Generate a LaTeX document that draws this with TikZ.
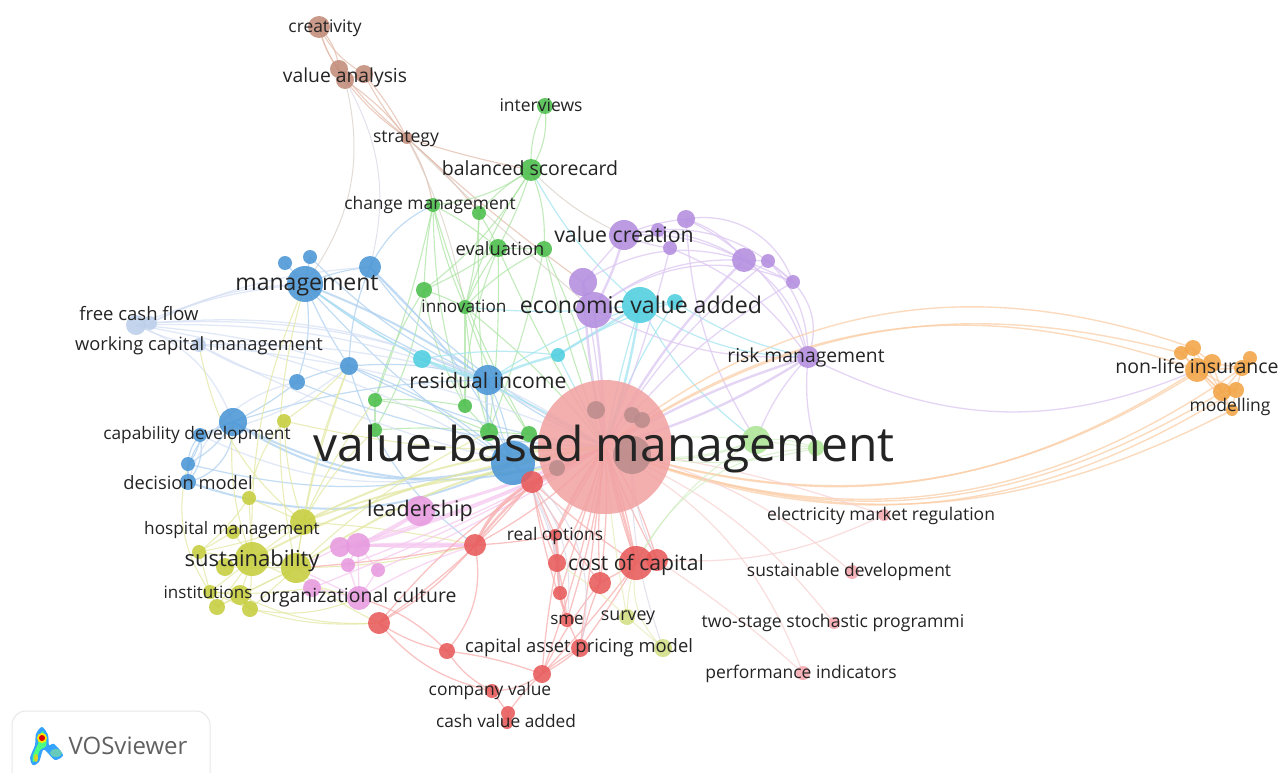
\documentclass[tikz,border=0pt]{standalone}
\usepackage{fontspec}
\setmainfont{Open Sans}
\usetikzlibrary{backgrounds}
\pgfdeclarelayer{edgelayer}
\pgfsetlayers{background,edgelayer,main}
\definecolor{cV}{HTML}{F2A3A3}
\definecolor{cBr}{HTML}{C28C7A}
\definecolor{cG}{HTML}{4CBF4C}
\definecolor{cB}{HTML}{4A96D6}
\definecolor{cC}{HTML}{4FCFE0}
\definecolor{cL}{HTML}{BCCFEA}
\definecolor{cP}{HTML}{B48EE0}
\definecolor{cO}{HTML}{F2A445}
\definecolor{cLg}{HTML}{AEE596}
\definecolor{cY}{HTML}{C6CE3E}
\definecolor{cK}{HTML}{E79ADF}
\definecolor{cR}{HTML}{E85A5A}
\definecolor{cQ}{HTML}{F5A9B0}
\definecolor{cS}{HTML}{D2DE84}
\definecolor{cGy}{HTML}{BC8C8C}
\definecolor{eBr}{HTML}{E3B9A8}
\definecolor{eG}{HTML}{ABE4A2}
\definecolor{eB}{HTML}{ABCFF0}
\definecolor{eC}{HTML}{A0E4F0}
\definecolor{eL}{HTML}{D6E0F4}
\definecolor{eP}{HTML}{DCC6F2}
\definecolor{eO}{HTML}{FBCDA5}
\definecolor{eY}{HTML}{E2E79E}
\definecolor{eK}{HTML}{F6C8F0}
\definecolor{eR}{HTML}{F8ADAD}
\definecolor{eQ}{HTML}{F9D0D0}
\definecolor{eT}{HTML}{D8CFC6}
\definecolor{eN}{HTML}{D9D5E6}
\definecolor{eS}{HTML}{E6EBB4}
\definecolor{eLg}{HTML}{CFEDC0}
\tikzset{
  vos/.style={circle,inner sep=0pt,draw=none,fill opacity=.88},
  lbl/.style={inner sep=0pt,text=black!86,yshift=-.5pt},
}
\newcommand\vnode[5]{\node[vos,fill=#5,minimum size=#4*2pt] (#1) at (#2,#3) {};}
\newcommand\vlab[5]{\node[lbl,font=\fontsize{#4}{#4}\selectfont] (#1) at (#2,#3) {#5};}
\newcommand\E[3]{\foreach \a/\b/\c in {#3}{\draw[color=#1,line width=#2pt,draw opacity=.72] (\a.center) to[bend left=\c] (\b.center);}}
\begin{document}
\begin{tikzpicture}[x=1pt,y=-1pt]
\begin{pgfonlayer}{background}
\fill[white] (0,0) rectangle (1282,773);
\end{pgfonlayer}
\useasboundingbox (0,0) rectangle (1282,773);
% ---------- nodes
\vnode{v}{605}{447}{67}{cV}
\vnode{h1}{596}{410}{9}{cGy}\vnode{h2}{632}{415}{8}{cGy}\vnode{h3}{642}{420}{8}{cGy}\vnode{h4}{632}{455}{19}{cGy}\vnode{h5}{557}{468}{8}{cGy}
\vnode{br1}{319}{27}{11}{cBr}\vnode{br2}{339}{69}{9}{cBr}\vnode{br3}{345}{80}{9}{cBr}\vnode{br4}{364}{74}{9}{cBr}\vnode{st}{407}{138}{6}{cBr}
\vnode{g1}{545}{106}{8}{cG}\vnode{g2}{531}{170}{11}{cG}\vnode{g3}{433}{205}{7}{cG}\vnode{g4}{479}{213}{7}{cG}\vnode{g5}{498}{248}{9}{cG}\vnode{g6}{544}{249}{8}{cG}\vnode{g7}{424}{290}{8}{cG}\vnode{g8}{465}{307}{7}{cG}\vnode{g9}{375}{400}{7}{cG}\vnode{g10}{465}{406}{7}{cG}\vnode{g11}{375}{430}{7}{cG}\vnode{g12}{489}{432}{9}{cG}\vnode{g13}{529}{434}{8}{cG}
\vnode{b1}{305}{284}{18}{cB}\vnode{b2}{285}{263}{7}{cB}\vnode{b3}{310}{257}{7}{cB}\vnode{b4}{370}{267}{11}{cB}\vnode{b5}{349}{366}{9}{cB}\vnode{b6}{297}{382}{8}{cB}\vnode{b7}{233}{422}{14}{cB}\vnode{b8}{200}{435}{7}{cB}\vnode{b9}{188}{464}{7}{cB}\vnode{b10}{188}{482}{8}{cB}\vnode{b11}{488}{380}{15}{cB}\vnode{b12}{513}{463}{22}{cB}
\vnode{c1}{640}{305}{18}{cC}\vnode{c2}{675}{302}{8}{cC}\vnode{c3}{422}{359}{9}{cC}\vnode{c4}{558}{355}{7}{cC}
\vnode{l1}{136}{325}{10}{cL}\vnode{l2}{150}{323}{7}{cL}\vnode{l3}{199}{345}{7}{cL}
\vnode{p1}{624}{235}{15}{cP}\vnode{p2}{686}{219}{9}{cP}\vnode{p3}{658}{230}{7}{cP}\vnode{p4}{670}{248}{7}{cP}\vnode{p5}{744}{260}{12}{cP}\vnode{p6}{768}{261}{7}{cP}\vnode{p7}{793}{282}{7}{cP}\vnode{p8}{583}{282}{14}{cP}\vnode{p9}{594}{310}{18}{cP}\vnode{p10}{808}{357}{11}{cP}
\vnode{o1}{1181}{353}{7}{cO}\vnode{o2}{1193}{348}{8}{cO}\vnode{o3}{1197}{370}{12}{cO}\vnode{o4}{1212}{363}{9}{cO}\vnode{o5}{1242}{368}{8}{cO}\vnode{o6}{1250}{358}{7}{cO}\vnode{o7}{1222}{392}{9}{cO}\vnode{o8}{1236}{390}{8}{cO}\vnode{o9}{1232}{410}{6}{cO}
\vnode{lg1}{756}{440}{14}{cLg}\vnode{lg2}{816}{448}{8}{cLg}
\vnode{y1}{284}{421}{7}{cY}\vnode{y2}{249}{498}{7}{cY}\vnode{y3}{303}{522}{13}{cY}\vnode{y4}{233}{532}{7}{cY}\vnode{y5}{199}{552}{7}{cY}\vnode{y6}{252}{559}{17}{cY}\vnode{y7}{225}{567}{9}{cY}\vnode{y8}{296}{568}{15}{cY}\vnode{y9}{210}{592}{7}{cY}\vnode{y10}{240}{595}{10}{cY}\vnode{y11}{217}{607}{8}{cY}\vnode{y12}{250}{609}{8}{cY}
\vnode{k1}{420}{511}{15}{cK}\vnode{k2}{340}{547}{10}{cK}\vnode{k3}{358}{545}{12}{cK}\vnode{k4}{348}{565}{7}{cK}\vnode{k5}{378}{570}{7}{cK}\vnode{k6}{312}{588}{9}{cK}\vnode{k7}{359}{598}{12}{cK}
\vnode{r1}{532}{482}{11}{cR}\vnode{r2}{475}{545}{11}{cR}\vnode{r3}{379}{623}{11}{cR}\vnode{r4}{555}{535}{6}{cR}\vnode{r5}{557}{563}{9}{cR}\vnode{r6}{560}{593}{7}{cR}\vnode{r7}{567}{620}{7}{cR}\vnode{r8}{600}{583}{11}{cR}\vnode{r9}{636}{563}{17}{cR}\vnode{r10}{657}{560}{11}{cR}\vnode{r11}{580}{648}{9}{cR}\vnode{r12}{542}{674}{9}{cR}\vnode{r13}{447}{651}{8}{cR}\vnode{r14}{492}{691}{7}{cR}\vnode{r15}{508}{713}{7}{cR}\vnode{r16}{507}{723}{6}{cR}
\vnode{q1}{884}{515}{6}{cQ}\vnode{q2}{852}{572}{7}{cQ}\vnode{q3}{834}{623}{6}{cQ}\vnode{q4}{803}{673}{7}{cQ}
\vnode{s1}{627}{617}{8}{cS}\vnode{s2}{663}{648}{9}{cS}
% ---------- edges
\begin{pgfonlayer}{edgelayer}
\E{eBr}{1.1}{br1/br2/18,br1/br2/-12,br1/br3/-10,br1/br4/-15,br2/st/-6,br3/st/8,br3/st/-8,br4/st/6,br4/st/-6,br2/br3/0,br3/br4/0,st/g3/10,st/g4/5,st/p8/-3,st/g2/-3}
\E{eT}{1}{br3/b1/25,g2/p1/-10,st/g8/8,st/p9/-2}
\E{eN}{1}{br3/b4/22}
\E{eG}{1.1}{g1/g2/18,g1/g2/-14,g2/g3/14,g2/g4/-10,g2/g5/5,g2/g8/-8,g2/g7/10,g2/g6/12,g3/g7/-4,g3/g8/-6,g3/g5/6,g3/g9/4,g4/g5/4,g4/g8/6,g5/g7/5,g5/g8/-5,g5/g6/0,g6/g8/-10,g7/g8/4,g7/g9/-8,g7/g11/10,g8/g10/0,g8/g12/-6,g9/g11/0,g9/g10/6,g10/g12/0,g12/g13/0,g11/g12/5,g8/v/6,g5/v/-4,g6/v/-4,g3/g13/-6,g4/g12/-4,g5/g12/4,g6/g12/4,g7/g10/-10,g3/g10/-8,g5/g10/-10,g9/g12/8,g8/g13/-8,g6/v/8}
\E{eB}{1.2}{b1/b2/0,b1/b3/0,b1/b4/8,b1/b5/-5,b1/b11/-8,b1/b12/-7,b1/b6/14,b1/c3/-5,b4/b11/-10,b4/b12/10,b4/b5/-10,b5/b11/10,b5/b12/10,b5/b6/-6,b6/b7/6,b7/b8/0,b7/b9/14,b7/b11/8,b8/b9/18,b8/b9/-18,b8/b10/25,b9/b10/0,b9/b12/-14,b11/b12/-6,b11/b12/8,b11/v/-6,b6/v/-10,b5/v/-10,b3/b11/-10,g3/b4/-18,b4/v/-10,b5/r2/-18,b10/b7/-40,b10/b7/40}
\E{eB}{2}{b7/b12/-24,b7/v/-24,b10/b12/-22,b11/g12/-6,b1/b11/6}
\E{eL}{1.3}{l1/b1/8,l1/b5/6,l1/v/16,l2/v/18,l3/v/8,l3/l1/8,l1/b12/10,l2/b11/14,l3/b11/8,l2/b4/10,l2/b1/12,l3/b12/-6,l1/b7/24,b6/b10/-30,l3/b6/-10,b8/b12/-20,b8/b5/-14}
\E{eC}{1.2}{c1/c2/0,c1/v/-3,c3/b11/0,c3/c4/8,c3/v/6,c2/v/-8,g2/c1/-10,c1/p10/-16,c2/c4/-8,c1/b11/-6,c2/p10/-10,c4/v/0,g8/c1/-6,c1/lg1/-12,c3/b1/4}
\E{eC}{2.4}{c1/c4/0,c4/b11/-5,c1/v/5,c3/b11/-8}
\E{eP}{1.3}{p1/p8/0,p1/p2/8,p1/p3/0,p1/p4/-8,p1/p5/14,p2/p5/16,p2/p7/40,p5/p6/0,p5/p7/0,p5/p10/22,p6/p7/0,p7/p10/32,p6/v/-10,p7/v/-10,p8/v/3,p8/p9/0,p3/p4/0,p4/v/4,p10/lg2/-10,p10/o3/-25,p8/p5/24,p1/p7/28,p9/p5/20,p9/p7/30,p9/p10/-14,p4/p10/16,p2/p10/22,p3/p5/10,p6/p10/22,p10/lg1/-10,p2/lg1/-14}
\E{eP}{2.4}{p1/p9/6,p9/v/3,p8/v/-4,p5/v/-8,p10/v/-6,p10/v/8}
\E{eO}{1.4}{v/o2/29,v/o3/27,v/o1/24,v/o7/-26,v/o3/-25,v/o5/-28,v/o9/-24,v/o8/-27,v/o4/-25,o1/o3/0,o2/o3/0,o3/o4/0,o4/o5/0,o5/o6/0,o3/o5/0,o5/o7/0,o5/o8/0,o3/o7/0,o3/o8/0,o7/o8/0,o7/o9/0,o8/o9/0,o4/o7/0,o3/o9/0,o1/o2/0,o1/o7/0,o2/o7/0,o2/o4/0}
\E{eY}{1.1}{y3/y6/0,y3/y8/0,y3/y5/5,y5/y6/0,y6/y8/0,y6/y9/0,y6/y10/0,y8/y10/0,y9/y10/0,y9/y11/0,y10/y12/0,y10/y11/0,y6/y11/0,y6/y12/0,y4/y5/0,y2/y6/0,y2/y3/0,y4/y6/0,y2/y5/8,y5/y9/0,y7/y8/0,y7/y6/0,y8/y12/0,y8/y11/0,y1/y3/-8,y1/y2/-14,y1/v/-8,y3/b5/6,y6/b1/12,y8/b5/6,y3/g11/8,y8/r2/-6,y9/k6/-6,y8/r3/-8,y10/r3/-14,y3/l3/20,y8/b1/14,y3/g9/6,y6/b7/12,y1/b5/-6,y12/k7/-16,y3/r2/4,y8/g12/8,y6/k7/-6,b9/y9/-24,y9/r3/-14}
\E{eY}{2}{y3/v/12,y8/v/12,y6/v/10,y3/h5/8}
\E{eK}{1.3}{k1/k3/0,k2/v/-5,k3/k2/0,k4/k3/0,k5/k3/0,k4/v/-4,k5/v/-4,k6/k7/0,k6/v/-4,k7/r2/6,k7/k3/0,k5/k7/0,k7/y8/0,k2/y8/0,k3/r2/-4,k7/k4/0}
\E{eK}{3}{k1/k3/6,k1/v/-4,k3/v/-5,k3/r2/0,k2/r2/3}
\E{eR}{1.3}{r2/r1/14,r3/r2/-10,r3/v/12,r3/r13/-10,r13/r12/6,r2/r13/25,r13/r14/-14,r14/r12/-16,r14/r15/0,r15/r16/0,r12/r15/-6,r12/r11/6,r12/r11/-6,r12/r8/6,r12/r9/-3,r11/r8/5,r11/r9/-3,r11/r7/0,r7/r6/0,r7/r5/8,r7/r5/-4,r6/r5/0,r5/r4/0,r5/r4/14,r4/v/0,r5/v/-6,r6/v/0,r8/v/-5,r8/v/5,r8/r9/0,r9/v/-5,r9/v/4,r10/v/3,r10/v/-8,r9/r10/0,r12/v/-4,r11/v/0,r12/r5/3,r7/v/-5,r3/r1/-8,r9/r1/4,r8/r1/3,r7/r1/5,r5/r1/6,r6/r4/-3,k7/r13/14,r3/r14/-18,r2/r4/-4,r2/v/-8,r4/r1/0,y8/r2/-3}
\E{eR}{2.4}{r2/v/16,r1/v/0,r4/v/6,r9/v/0,r2/r1/18,r5/r4/-10}
\E{eQ}{1.2}{q1/v/-5,q2/v/-13,q3/v/-14,q4/v/-20,q1/r10/14,q4/r10/-4}
\E{eN}{1}{b12/r5/12,b12/r6/18,b12/r7/26,b12/r11/34,h4/r10/-12,h4/s2/-10}
\E{eS}{1}{s1/r9/8,s1/r5/-5,s2/r9/28,s2/s1/0,s1/v/3}
\E{eLg}{1}{lg1/lg2/0,lg1/v/18,lg1/v/-8,lg2/v/14,lg2/r9/-30,lg1/r9/-14,lg2/lg1/-12,lg1/h4/16}
\end{pgfonlayer}
% ---------- labels
\vlab{t1}{325}{28}{17.4}{creativity}
\vlab{t2}{345}{77}{19.3}{value analysis}
\vlab{t3}{541}{105}{17.5}{interviews}
\vlab{t4}{406}{138}{17.6}{strategy}
\vlab{t5}{530}{168}{19.5}{balanced scorecard}
\vlab{t6}{430}{204}{17.4}{change management}
\vlab{t7}{500}{248}{18.3}{evaluation}
\vlab{t8}{624}{234}{21.3}{value creation}
\vlab{t9}{307}{285}{23}{management}
\vlab{t10}{464}{306}{17.2}{innovation}
\vlab{t11}{641}{304}{23.1}{economic value added}
\vlab{t12}{139}{313}{18.5}{free cash flow}
\vlab{t13}{199}{345}{18.3}{working capital management}
\vlab{t14}{488}{380}{21.2}{residual income}
\vlab{t15}{806}{357}{19.3}{risk management}
\vlab{t16}{1197}{366}{19.5}{non-life insurance}
\vlab{t17}{1230}{406}{17.5}{modelling}
\vlab{t18}{197}{435}{17.3}{capability development}
\vlab{t19}{604}{449}{48}{value-based management}
\vlab{t20}{188}{482}{18.3}{decision model}
\vlab{t21}{420}{510}{21.5}{leadership}
\vlab{t22}{232}{530}{17.2}{hospital management}
\vlab{t23}{555}{535}{17.4}{real options}
\vlab{t24}{252}{560}{22}{sustainability}
\vlab{t25}{636}{564}{21.1}{cost of capital}
\vlab{t26}{881}{515}{17.5}{electricity market regulation}
\vlab{t27}{849}{571}{17.4}{sustainable development}
\vlab{t28}{208}{592}{17}{institutions}
\vlab{t29}{358}{597}{19.4}{organizational culture}
\vlab{t30}{567}{619}{17}{sme}
\vlab{t31}{628}{617}{17.8}{survey}
\vlab{t32}{833}{622}{17.6}{two-stage stochastic programmi}
\vlab{t33}{579}{647}{18.4}{capital asset pricing model}
\vlab{t34}{801}{673}{17.5}{performance indicators}
\vlab{t35}{490}{690}{17.4}{company value}
\vlab{t36}{506}{721}{17.3}{cash value added}
% ---------- logo
\draw[draw=black!9,line width=1pt,fill=white,rounded corners=14pt] (12,711) -- (210,711) -- (210,790) -- (12,790) -- cycle;
\fill[blue!45!cyan!80!white] plot[smooth cycle] coordinates {(42,727) (48,735) (49,745) (54,744) (63,755) (55,760) (47,752) (43,750) (39,762) (33,765) (30,758) (35,745) (36,734)};
\fill[green!70!cyan!70!white] plot[smooth cycle] coordinates {(42,731) (46,738) (46,746) (40,750) (37,758) (33,762) (33,755) (38,744)};
\fill[cyan!50!green!60!white] (56,753) ellipse[x radius=6pt,y radius=4pt];
\fill[yellow!85!black] (36,758) ellipse[x radius=2pt,y radius=4pt];
\fill[yellow!90!orange] (42,738) circle[radius=5pt];
\fill[red!85!black] (42,738) circle[radius=3pt];
\node[inner sep=0pt,text=black!62,font=\fontsize{24}{24}\selectfont] (logo) at (128,746) {VOSviewer};
\end{tikzpicture}
\end{document}
